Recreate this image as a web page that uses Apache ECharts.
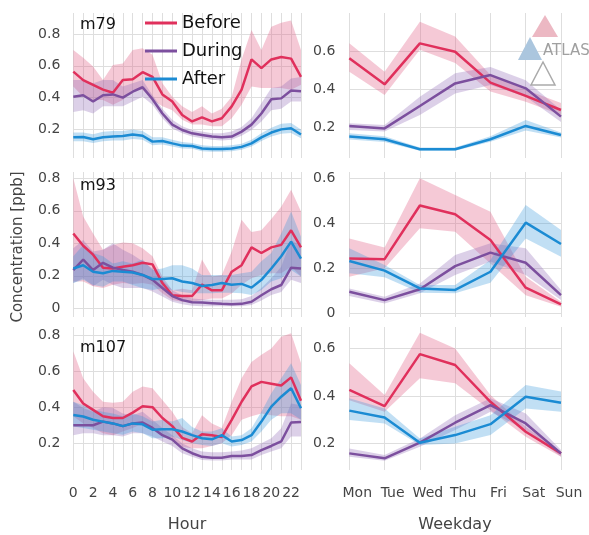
<!DOCTYPE html>
<html>
<head>
<meta charset="utf-8">
<script src="https://cdn.jsdelivr.net/npm/echarts@6/dist/echarts.min.js"></script>
<style>
  html, body { margin: 0; padding: 0; background: #fff; }
  #chart { width: 589px; height: 535px; }
</style>
</head>
<body>
<div id="chart"></div>
<script>
// Categories
const hours = Array.from({length: 24}, (_, i) => String(i));
const weekdays = ['Mon', 'Tue', 'Wed', 'Thu', 'Fri', 'Sat', 'Sun'];
const yTicks = [0, 0.2, 0.4, 0.6, 0.8];

// m79 by hour
const m79HourBefore   = [0.563,0.51,0.48,0.45,0.43,0.51,0.515,0.56,0.53,0.42,0.375,0.29,0.25,0.275,0.25,0.27,0.345,0.45,0.64,0.585,0.64,0.655,0.645,0.53];
const m79HourBeforeHi = [0.70,0.65,0.595,0.51,0.605,0.615,0.70,0.71,0.67,0.49,0.405,0.345,0.31,0.345,0.30,0.33,0.405,0.64,0.825,0.70,0.845,0.87,0.885,0.70];
const m79HourBeforeLo = [0.47,0.405,0.385,0.385,0.355,0.385,0.45,0.45,0.385,0.345,0.32,0.26,0.23,0.23,0.22,0.22,0.27,0.355,0.47,0.46,0.46,0.46,0.45,0.48];
const m79HourDuring   = [0.405,0.415,0.375,0.415,0.42,0.40,0.437,0.465,0.39,0.30,0.23,0.196,0.175,0.165,0.155,0.15,0.155,0.186,0.23,0.30,0.39,0.395,0.445,0.44];
const m79HourDuringHi = [0.51,0.51,0.49,0.51,0.51,0.47,0.49,0.51,0.415,0.33,0.26,0.22,0.196,0.186,0.176,0.176,0.186,0.215,0.27,0.365,0.46,0.47,0.52,0.53];
const m79HourDuringLo = [0.31,0.32,0.30,0.345,0.345,0.345,0.375,0.405,0.355,0.27,0.206,0.175,0.155,0.145,0.135,0.13,0.135,0.16,0.196,0.25,0.32,0.33,0.375,0.375];
const m79HourAfter    = [0.15,0.152,0.138,0.15,0.155,0.158,0.168,0.16,0.123,0.127,0.112,0.098,0.096,0.08,0.077,0.077,0.08,0.09,0.112,0.15,0.18,0.20,0.207,0.168];
const m79HourAfterHi  = [0.18,0.18,0.17,0.185,0.19,0.19,0.2,0.19,0.15,0.15,0.135,0.12,0.115,0.1,0.095,0.095,0.1,0.11,0.135,0.175,0.21,0.235,0.24,0.2];
const m79HourAfterLo  = [0.125,0.125,0.115,0.125,0.13,0.13,0.14,0.135,0.1,0.105,0.093,0.08,0.078,0.063,0.06,0.06,0.063,0.072,0.092,0.127,0.155,0.172,0.178,0.145];

// m93 by hour
const m93HourBefore   = [0.46,0.385,0.33,0.25,0.245,0.255,0.265,0.28,0.27,0.155,0.08,0.075,0.075,0.145,0.11,0.11,0.225,0.265,0.375,0.34,0.375,0.39,0.48,0.375];
const m93HourBeforeHi = [0.80,0.565,0.46,0.36,0.39,0.405,0.40,0.37,0.32,0.195,0.11,0.12,0.11,0.30,0.195,0.205,0.35,0.545,0.47,0.48,0.55,0.625,0.73,0.595];
const m93HourBeforeLo = [0.165,0.165,0.135,0.125,0.145,0.155,0.15,0.155,0.145,0.093,0.05,0.04,0.04,0.05,0.06,0.06,0.09,0.145,0.185,0.205,0.215,0.215,0.255,0.195];
const m93HourDuring   = [0.235,0.30,0.235,0.28,0.25,0.235,0.225,0.205,0.175,0.125,0.075,0.05,0.037,0.035,0.031,0.027,0.025,0.027,0.04,0.08,0.117,0.143,0.25,0.245];
const m93HourDuringHi = [0.37,0.42,0.35,0.36,0.40,0.36,0.33,0.29,0.245,0.175,0.11,0.08,0.06,0.055,0.052,0.052,0.052,0.055,0.075,0.125,0.185,0.255,0.42,0.38];
const m93HourDuringLo = [0.155,0.185,0.135,0.175,0.145,0.125,0.125,0.125,0.103,0.072,0.04,0.025,0.015,0.012,0.012,0.012,0.012,0.012,0.02,0.047,0.082,0.10,0.175,0.155];
const m93HourAfter    = [0.245,0.265,0.225,0.215,0.23,0.225,0.22,0.205,0.18,0.18,0.185,0.165,0.155,0.137,0.143,0.155,0.145,0.15,0.127,0.175,0.245,0.32,0.41,0.305];
const m93HourAfterHi  = [0.32,0.39,0.34,0.32,0.275,0.29,0.275,0.30,0.235,0.245,0.265,0.265,0.245,0.205,0.205,0.205,0.205,0.215,0.225,0.29,0.34,0.46,0.595,0.44];
const m93HourAfterLo  = [0.155,0.175,0.143,0.133,0.165,0.165,0.143,0.123,0.113,0.123,0.113,0.10,0.092,0.092,0.092,0.096,0.096,0.092,0.082,0.113,0.165,0.185,0.235,0.195];

// m107 by hour
const m107HourBefore   = [0.495,0.42,0.385,0.35,0.34,0.34,0.37,0.405,0.40,0.34,0.295,0.23,0.21,0.25,0.245,0.235,0.33,0.43,0.515,0.54,0.53,0.52,0.565,0.435];
const m107HourBeforeHi = [0.71,0.56,0.485,0.43,0.425,0.43,0.485,0.515,0.505,0.44,0.375,0.29,0.255,0.355,0.31,0.285,0.43,0.56,0.65,0.69,0.725,0.79,0.81,0.645];
const m107HourBeforeLo = [0.35,0.31,0.285,0.255,0.245,0.265,0.285,0.31,0.285,0.245,0.22,0.18,0.172,0.172,0.185,0.20,0.245,0.33,0.35,0.365,0.355,0.35,0.35,0.33];
const m107HourDuring   = [0.30,0.30,0.30,0.32,0.31,0.295,0.31,0.315,0.285,0.245,0.22,0.172,0.145,0.125,0.12,0.12,0.13,0.13,0.135,0.162,0.185,0.21,0.315,0.318];
const m107HourDuringHi = [0.43,0.395,0.375,0.40,0.395,0.365,0.355,0.375,0.33,0.285,0.245,0.20,0.172,0.155,0.15,0.15,0.155,0.16,0.172,0.20,0.228,0.283,0.42,0.41];
const m107HourDuringLo = [0.245,0.255,0.255,0.245,0.245,0.237,0.255,0.255,0.237,0.21,0.185,0.145,0.125,0.108,0.105,0.105,0.11,0.11,0.11,0.135,0.155,0.172,0.237,0.237];
const m107HourAfter    = [0.357,0.348,0.33,0.32,0.31,0.295,0.31,0.305,0.275,0.278,0.278,0.265,0.245,0.228,0.222,0.245,0.21,0.218,0.245,0.32,0.403,0.458,0.505,0.394];
const m107HourAfterHi  = [0.43,0.41,0.385,0.375,0.365,0.35,0.365,0.35,0.32,0.33,0.32,0.34,0.29,0.265,0.265,0.283,0.237,0.245,0.283,0.375,0.477,0.56,0.643,0.523];
const m107HourAfterLo  = [0.293,0.284,0.275,0.265,0.256,0.247,0.265,0.256,0.228,0.228,0.237,0.218,0.20,0.19,0.185,0.20,0.182,0.19,0.21,0.265,0.33,0.366,0.366,0.33];

// m79 by weekday
const m79DayBefore   = [0.565,0.428,0.644,0.60,0.437,0.367,0.293];
const m79DayBeforeHi = [0.644,0.495,0.758,0.68,0.477,0.40,0.33];
const m79DayBeforeLo = [0.495,0.372,0.61,0.54,0.39,0.337,0.267];
const m79DayDuring   = [0.209,0.196,0.314,0.433,0.477,0.407,0.258];
const m79DayDuringHi = [0.223,0.214,0.363,0.486,0.52,0.45,0.293];
const m79DayDuringLo = [0.188,0.179,0.267,0.38,0.425,0.363,0.23];
const m79DayAfter    = [0.153,0.139,0.086,0.086,0.139,0.209,0.161];
const m79DayAfterHi  = [0.17,0.155,0.095,0.095,0.155,0.24,0.175];
const m79DayAfterLo  = [0.137,0.124,0.078,0.078,0.125,0.185,0.148];

// m93 by weekday
const m93DayBefore   = [0.244,0.241,0.479,0.44,0.326,0.114,0.04];
const m93DayBeforeHi = [0.333,0.293,0.60,0.526,0.452,0.163,0.052];
const m93DayBeforeLo = [0.163,0.20,0.378,0.363,0.222,0.081,0.03];
const m93DayDuring   = [0.096,0.059,0.107,0.21,0.27,0.225,0.081];
const m93DayDuringHi = [0.111,0.074,0.133,0.259,0.311,0.289,0.104];
const m93DayDuringLo = [0.077,0.044,0.089,0.17,0.23,0.17,0.059];
const m93DayAfter    = [0.233,0.19,0.111,0.104,0.185,0.403,0.308];
const m93DayAfterHi  = [0.289,0.215,0.126,0.126,0.237,0.481,0.37];
const m93DayAfterLo  = [0.178,0.16,0.092,0.089,0.136,0.333,0.252];

// m107 by weekday
const m107DayBefore   = [0.425,0.357,0.576,0.53,0.375,0.249,0.158];
const m107DayBeforeHi = [0.537,0.404,0.666,0.60,0.404,0.27,0.165];
const m107DayBeforeLo = [0.382,0.333,0.474,0.453,0.34,0.228,0.144];
const m107DayDuring   = [0.158,0.137,0.203,0.287,0.361,0.284,0.158];
const m107DayDuringHi = [0.179,0.151,0.221,0.319,0.39,0.326,0.172];
const m107DayDuringLo = [0.144,0.127,0.186,0.256,0.333,0.256,0.144];
const m107DayAfter    = [0.338,0.309,0.203,0.235,0.281,0.396,0.371];
const m107DayAfterHi  = [0.39,0.347,0.221,0.27,0.319,0.446,0.418];
const m107DayAfterLo  = [0.298,0.284,0.193,0.20,0.235,0.347,0.333];

// Styling
const FONT = 'DejaVu Sans';
const periods = [
  {name: 'Before', line: '#e0305c', band: 'rgba(226,90,130,0.33)'},
  {name: 'During', line: '#7c4f9e', band: 'rgba(140,100,180,0.30)'},
  {name: 'After',  line: '#1b8bd3', band: 'rgba(50,150,220,0.30)'}
];

// Column / row placement of the six panels
const L = {left: 73.3, width: 227.7};
const R = {left: 349.3, width: 211.7};
const rows = [{top: 13, height: 145}, {top: 172, height: 145}, {top: 327, height: 143}];

const panels = [
  {col: L, row: 0, cats: hours, min: 0.02, max: 0.932,
   sets: [[m79HourBefore, m79HourBeforeLo, m79HourBeforeHi], [m79HourDuring, m79HourDuringLo, m79HourDuringHi], [m79HourAfter, m79HourAfterLo, m79HourAfterHi]]},
  {col: R, row: 0, cats: weekdays, min: 0.04, max: 0.804,
   sets: [[m79DayBefore, m79DayBeforeLo, m79DayBeforeHi], [m79DayDuring, m79DayDuringLo, m79DayDuringHi], [m79DayAfter, m79DayAfterLo, m79DayAfterHi]]},
  {col: L, row: 1, cats: hours, min: -0.054, max: 0.839,
   sets: [[m93HourBefore, m93HourBeforeLo, m93HourBeforeHi], [m93HourDuring, m93HourDuringLo, m93HourDuringHi], [m93HourAfter, m93HourAfterLo, m93HourAfterHi]]},
  {col: R, row: 1, cats: weekdays, min: -0.016, max: 0.628,
   sets: [[m93DayBefore, m93DayBeforeLo, m93DayBeforeHi], [m93DayDuring, m93DayDuringLo, m93DayDuringHi], [m93DayAfter, m93DayAfterLo, m93DayAfterHi]]},
  {col: L, row: 2, cats: hours, min: 0.052, max: 0.844,
   sets: [[m107HourBefore, m107HourBeforeLo, m107HourBeforeHi], [m107HourDuring, m107HourDuringLo, m107HourDuringHi], [m107HourAfter, m107HourAfterLo, m107HourAfterHi]]},
  {col: R, row: 2, cats: weekdays, min: 0.088, max: 0.69,
   sets: [[m107DayBefore, m107DayBeforeLo, m107DayBeforeHi], [m107DayDuring, m107DayDuringLo, m107DayDuringHi], [m107DayAfter, m107DayAfterLo, m107DayAfterHi]]}
];

const grids = [], xAxes = [], yAxes = [], bandSeries = [], lineSeries = [];
const gridLineStyle = {color: '#dedede', width: 1};

panels.forEach((p, i) => {
  const isHour = p.cats === hours;
  const bottomRow = p.row === 2;
  grids.push({left: p.col.left, width: p.col.width, top: rows[p.row].top, height: rows[p.row].height});
  const ticks = yTicks.filter(v => v >= p.min && v <= p.max - 0.01);
  xAxes.push({
    type: 'category', gridIndex: i, data: p.cats, boundaryGap: false,
    axisLine: {show: false}, axisTick: {show: false},
    axisLabel: {
      show: bottomRow, interval: isHour ? 1 : 0, margin: 16,
      fontFamily: FONT, fontSize: 14, color: '#444',
      padding: isHour ? 0 : [0, 0, 0, 16]
    },
    splitLine: {show: true, interval: 0, lineStyle: gridLineStyle}
  });
  yAxes.push({
    type: 'value', gridIndex: i, min: p.min, max: p.max,
    axisLine: {show: false},
    axisTick: {show: false, customValues: ticks},
    axisLabel: {
      customValues: ticks, margin: isHour ? 13 : 14,
      fontFamily: FONT, fontSize: 14, color: '#444',
      formatter: v => (Math.abs(v) < 1e-9 ? '0' : v.toFixed(1))
    },
    splitLine: {show: true, lineStyle: gridLineStyle}
  });
  p.sets.forEach((s, k) => {
    const per = periods[k];
    const [mean, lo, hi] = s;
    const stackId = 'ci-' + i + '-' + k;
    bandSeries.push({
      type: 'line', name: per.name + ' low', xAxisIndex: i, yAxisIndex: i,
      data: lo, stack: stackId, symbol: 'none', silent: true,
      lineStyle: {opacity: 0}, z: 1
    });
    bandSeries.push({
      type: 'line', name: per.name + ' range', xAxisIndex: i, yAxisIndex: i,
      data: hi.map((h, j) => h - lo[j]), stack: stackId, symbol: 'none', silent: true,
      lineStyle: {opacity: 0}, areaStyle: {color: per.band, opacity: 1}, z: 1
    });
    lineSeries.push({
      type: 'line', name: per.name, xAxisIndex: i, yAxisIndex: i,
      data: mean, symbol: 'none', color: per.line,
      lineStyle: {color: per.line, width: 2.5}, z: 3
    });
  });
});

const titleStyle = {fontFamily: FONT, fontSize: 16, fontWeight: 'normal', color: '#111'};

const chart = echarts.init(document.getElementById('chart'), null, {renderer: 'canvas'});
chart.setOption({
  animation: false,
  backgroundColor: '#fff',
  grid: grids,
  xAxis: xAxes,
  yAxis: yAxes,
  title: [
    {text: 'm79', left: 80, top: 17, padding: 0, textStyle: titleStyle},
    {text: 'm93', left: 80, top: 178, padding: 0, textStyle: titleStyle},
    {text: 'm107', left: 80, top: 340, padding: 0, textStyle: titleStyle}
  ],
  legend: {
    data: periods.map(p => p.name), orient: 'vertical', left: 140, top: 8,
    icon: 'rect', itemWidth: 32, itemHeight: 3, itemGap: 8,
    textStyle: {fontFamily: FONT, fontSize: 18, lineHeight: 20, color: '#111'}
  },
  graphic: [
    {type: 'text', x: 18, y: 247, rotation: Math.PI / 2,
     style: {text: 'Concentration [ppb]', fontFamily: FONT, fontSize: 15, fill: '#444', textAlign: 'center', textVerticalAlign: 'middle'}},
    {type: 'text', x: 187, y: 525,
     style: {text: 'Hour', fontFamily: FONT, fontSize: 16, fill: '#444', textAlign: 'center', textVerticalAlign: 'middle'}},
    {type: 'text', x: 455, y: 525,
     style: {text: 'Weekday', fontFamily: FONT, fontSize: 16, fill: '#444', textAlign: 'center', textVerticalAlign: 'middle'}},
    // ATLAS mark
    {type: 'polygon', shape: {points: [[545, 15], [532, 37], [558, 37]]}, style: {fill: '#ecb8c3'}, z: 10},
    {type: 'polygon', shape: {points: [[530, 37], [518, 60], [542, 60]]}, style: {fill: '#abc6de'}, z: 10},
    {type: 'polygon', shape: {points: [[543, 62], [531, 85], [555, 85]]}, style: {fill: 'none', stroke: '#aaaaaa', lineWidth: 1.5}, z: 10},
    {type: 'text', x: 543, y: 51, z: 10,
     style: {text: 'ATLAS', fontFamily: FONT, fontSize: 15, fill: '#a0a0a0', textVerticalAlign: 'middle'}}
  ],
  series: bandSeries.concat(lineSeries)
});
</script>
</body>
</html>
